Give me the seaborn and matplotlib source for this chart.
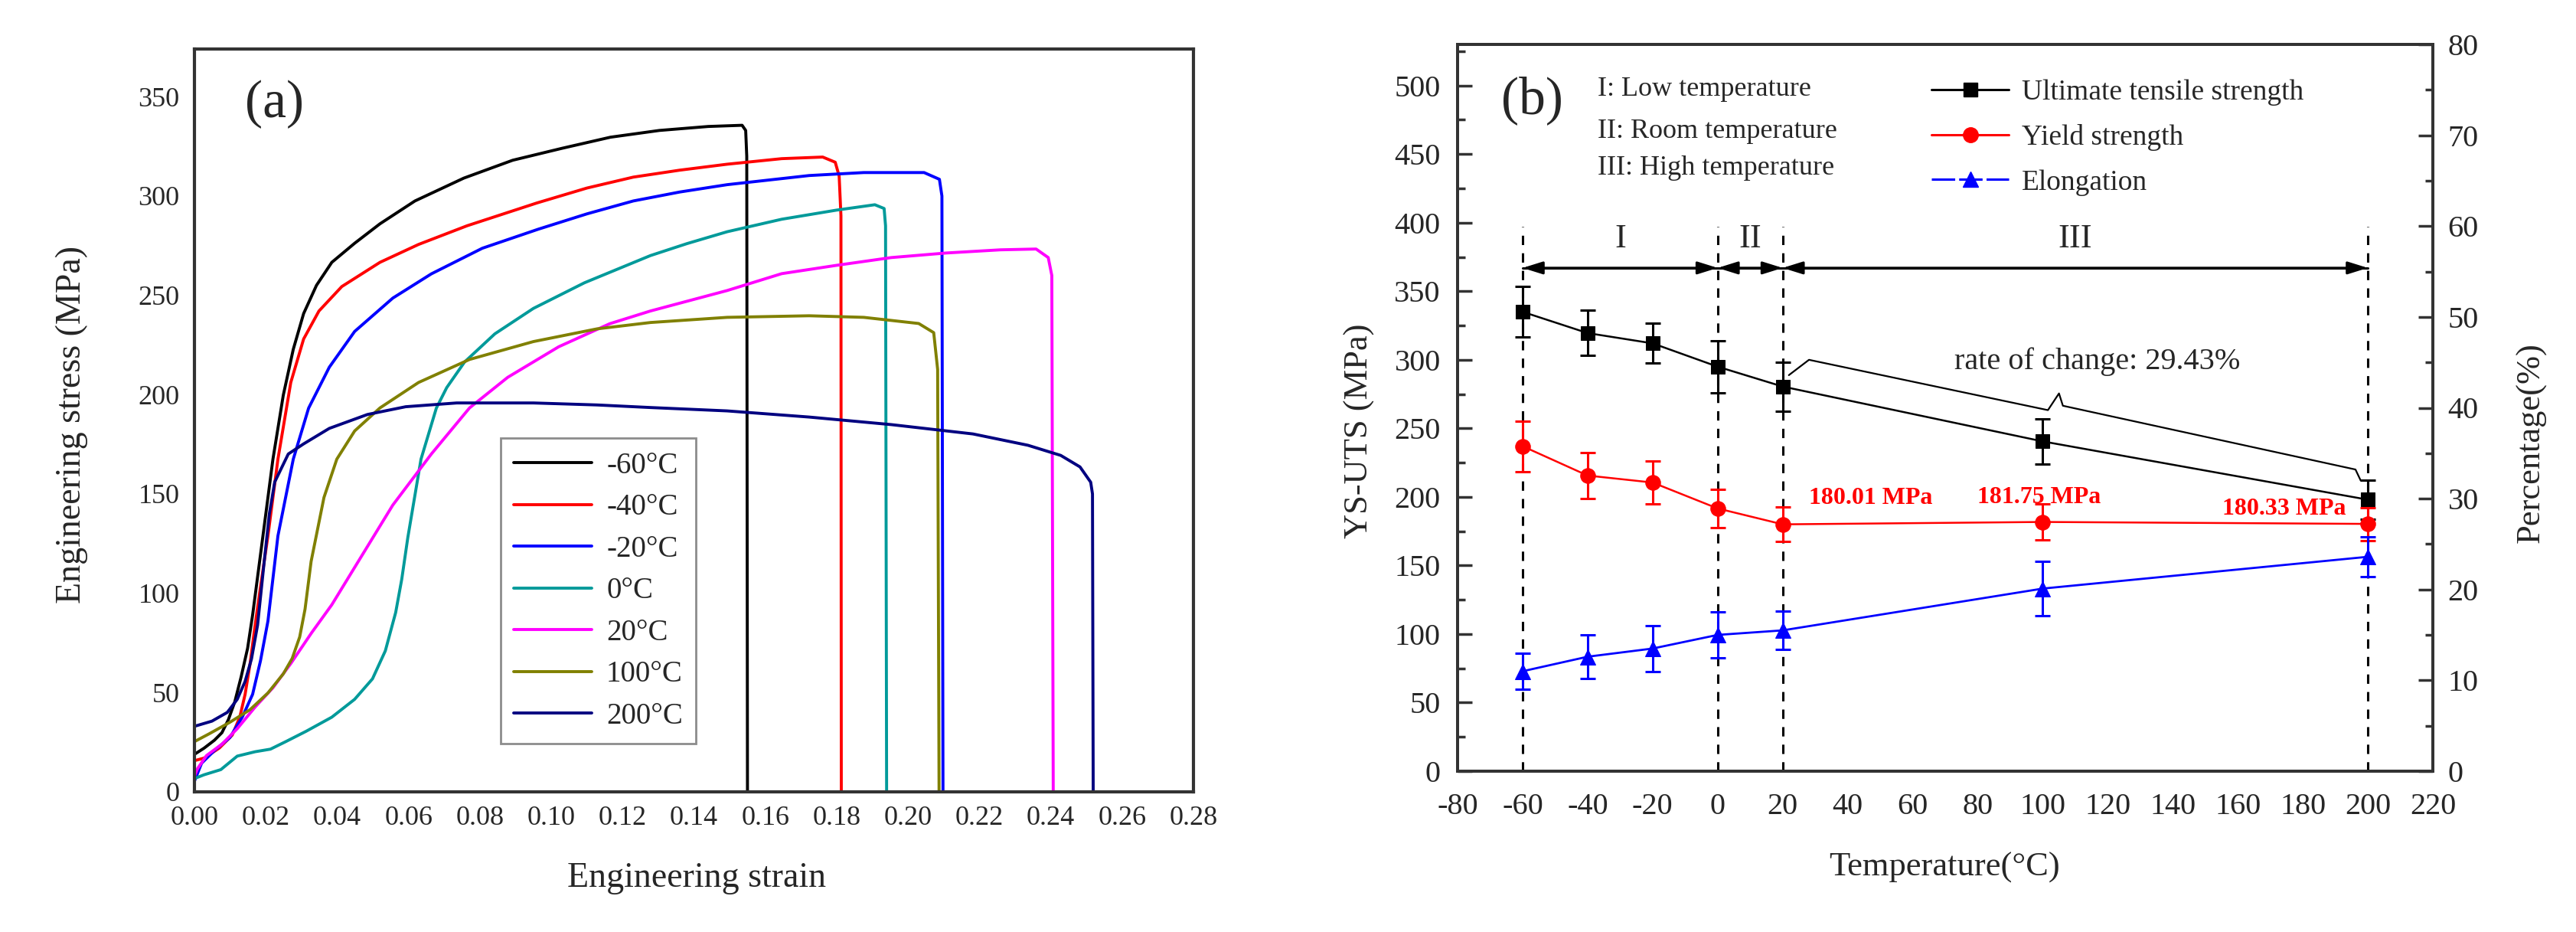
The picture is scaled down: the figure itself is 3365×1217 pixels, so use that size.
import matplotlib
matplotlib.use('Agg')
import matplotlib.pyplot as plt
import seaborn as sns
from matplotlib.lines import Line2D
from matplotlib.ticker import MultipleLocator, FormatStrFormatter

# ---- (a) stress-strain curves ----
labels_a = ['-60°C', '-40°C', '-20°C', '0°C', '20°C', '100°C', '200°C']
colors_a = ['#000000', '#ff0000', '#0000ff', '#009a9a', '#ff00ff', '#808000', '#000080']

strain_m60 = [0, 0.0027, 0.0056, 0.0077, 0.0095, 0.0113, 0.0131, 0.0149, 0.0163, 0.0192, 0.022, 0.0249,
              0.0277, 0.0306, 0.0342, 0.0385, 0.0449, 0.052, 0.0618, 0.0755, 0.0892, 0.103, 0.1166,
              0.1303, 0.144, 0.1535, 0.1545, 0.1548, 0.155]
stress_m60 = [18.9, 22, 26, 29.8, 36.3, 45.3, 58, 72.3, 89, 128.9, 167.5, 199.7,
              222.8, 240.8, 255, 266.6, 276.2, 286, 297.5, 309, 318, 324, 329.6,
              333, 335, 335.6, 333, 320, 0]

strain_m40 = [0, 0.0027, 0.007, 0.0106, 0.0127, 0.0142, 0.0156, 0.017, 0.0185, 0.0206, 0.0234, 0.027,
              0.0306, 0.0349, 0.0413, 0.052, 0.0628, 0.0764, 0.096, 0.11, 0.123, 0.136, 0.1493,
              0.1646, 0.1761, 0.1796, 0.1807, 0.1812, 0.1813]
stress_m40 = [15.7, 17, 22.1, 28.6, 37.6, 49.1, 64.6, 83.9, 103, 128.9, 167.5, 206.1,
              228, 242.1, 254.4, 266.6, 275.6, 285, 296.5, 304, 309.5, 313, 316,
              318.8, 319.6, 317, 310, 290, 0]

strain_m20 = [0, 0.002, 0.0056, 0.0099, 0.0134, 0.0163, 0.0185, 0.0206, 0.0234, 0.0277, 0.032, 0.0378,
              0.0449, 0.0556, 0.0664, 0.0807, 0.0964, 0.11, 0.123, 0.136, 0.1493, 0.1723, 0.1876,
              0.2045, 0.2088, 0.2095, 0.2098]
stress_m20 = [5.4, 14.4, 20.8, 27.3, 37.6, 49.1, 65.9, 86, 128.9, 167.5, 193.2, 213.8,
              231.8, 248.6, 260.8, 273.7, 283.3, 291, 297.5, 302, 305.7, 310.3, 311.8,
              311.8, 308.4, 300, 0]

strain_0 = [0, 0.0027, 0.0074, 0.012, 0.017, 0.0213, 0.0256, 0.0313, 0.0385, 0.0449, 0.0499, 0.0535,
            0.0564, 0.0581, 0.0598, 0.0635, 0.0678, 0.0707, 0.0757, 0.0842, 0.095, 0.1093, 0.1278,
            0.138, 0.1493, 0.1646, 0.18, 0.1907, 0.1933, 0.1937, 0.194]
stress_0 = [6.7, 8.6, 11.2, 18, 20.2, 21.5, 25.3, 30.5, 37.6, 46.6, 56.9, 71,
            90.3, 107, 128, 167.5, 193.2, 203.5, 216.4, 230.6, 243.4, 256.3, 270,
            276, 282, 288.3, 292.9, 295.6, 293.7, 285, 0]

strain_20 = [0, 0.0009, 0.0034, 0.0077, 0.012, 0.017, 0.022, 0.027, 0.0328, 0.0385, 0.0449, 0.0556,
             0.0664, 0.0771, 0.0878, 0.1021, 0.1164, 0.1278, 0.1493, 0.1646, 0.18, 0.1953, 0.2107,
             0.2259, 0.2359, 0.2393, 0.2403, 0.2407]
stress_20 = [8, 11.8, 18.3, 24, 31.8, 42.7, 52.4, 64.6, 80, 94.2, 113, 144.4,
             170.1, 193.3, 208.7, 224.1, 235.7, 242.1, 252.4, 260.9, 265.1, 269, 271.3,
             272.9, 273.3, 269, 260, 0]

strain_100 = [0, 0.0041, 0.0099, 0.0156, 0.0206, 0.0249, 0.0274, 0.0295, 0.031, 0.0327, 0.0363, 0.0399,
              0.0449, 0.052, 0.0628, 0.0771, 0.095, 0.1128, 0.1278, 0.1493, 0.1723, 0.1876, 0.203,
              0.2072, 0.2083, 0.2087]
stress_100 = [25.3, 29.2, 35, 41.4, 49.8, 59.4, 67.2, 78, 92, 116, 148.2, 167.5,
              181.7, 193.3, 206.1, 217.7, 226.7, 233.1, 236.3, 238.9, 239.7, 238.9, 235.8,
              231.2, 212.7, 0]

strain_200 = [0, 0.0049, 0.0092, 0.012, 0.0142, 0.016, 0.0177, 0.0195, 0.021, 0.0225, 0.0263, 0.0306,
              0.0378, 0.0485, 0.0592, 0.0735, 0.095, 0.1128, 0.1278, 0.1493, 0.1723, 0.1953, 0.2182,
              0.2336, 0.2428, 0.2482, 0.2512, 0.2517, 0.2519]
stress_200 = [33, 35.6, 40, 46.6, 55.6, 67, 84, 115, 140, 156, 170.1, 175.2,
              183, 190, 193.9, 195.8, 195.8, 194.8, 193.5, 191.8, 188.7, 184.9, 180.2,
              174.5, 169.4, 163.6, 155.9, 150, 0]

curves_a = [(strain_m60, stress_m60), (strain_m40, stress_m40), (strain_m20, stress_m20),
            (strain_0, stress_0), (strain_20, stress_20), (strain_100, stress_100),
            (strain_200, stress_200)]

# ---- (b) strength / elongation vs temperature ----
temps = [-60, -40, -20, 0, 20, 100, 200]
uts = [335, 319.5, 312, 295, 280.5, 240.5, 198]
uts_err = [18.5, 16.5, 14.5, 19, 18, 16.5, 14]
ys = [237, 215.6, 210.5, 191.6, 180.01, 181.75, 180.33]
ys_err = [18.5, 17, 15.5, 14, 12.5, 13, 12]
elong = [11.0, 12.6, 13.5, 15.0, 15.5, 20.1, 23.6]
elong_err = [2.0, 2.4, 2.5, 2.5, 2.1, 3.0, 2.2]

region_bounds = [-60, 0, 20, 200]
region_names = ['I', 'II', 'III']
region_text = ['I: Low temperature', 'II: Room temperature', 'III: High temperature']
ys_notes = [(28, 195, '180.01 MPa'), (79.9, 195.5, '181.75 MPa'), (155.2, 187, '180.33 MPa')]
bracket_t = [21.9, 28.1, 101.6, 105, 106.2, 196.2, 197.8]
bracket_v = [288.8, 300, 263.3, 275.5, 266.5, 220, 212]

sns.set_style('white')
plt.rcParams['font.family'] = ['Liberation Serif', 'DejaVu Serif']
plt.rcParams['axes.unicode_minus'] = False

W, H = 3366, 1217
fig = plt.figure(figsize=(W / 100, H / 100), dpi=100)
spine_c = '#333333'

#%% panel (a)
ax1 = fig.add_axes([254 / W, (H - 1034) / H, 1305 / W, 970 / H])
for (sx, sy), lab, c in zip(curves_a, labels_a, colors_a):
    sns.lineplot(x=sx, y=sy, sort=False, estimator=None, color=c, lw=2.8, label=lab, ax=ax1)

ax1.set_xlim(0, 0.28)
ax1.set_ylim(0, 374)
ax1.xaxis.set_major_locator(MultipleLocator(0.02))
ax1.xaxis.set_minor_locator(MultipleLocator(0.01))
ax1.xaxis.set_major_formatter(FormatStrFormatter('%.2f'))
ax1.yaxis.set_major_locator(MultipleLocator(50))
ax1.yaxis.set_minor_locator(MultipleLocator(25))
ax1.tick_params(which='both', direction='in', top=False, right=False, width=2.5, color=spine_c)
ax1.tick_params(which='major', length=14, labelsize=26)
ax1.tick_params(which='minor', length=8)
ax1.tick_params(axis='x', pad=13)
ax1.tick_params(axis='y', pad=14)
for s in ax1.spines.values():
    s.set_linewidth(3)
    s.set_color(spine_c)

ax1.set_xlabel('Engineering strain', fontsize=33)
ax1.xaxis.set_label_coords(0.503, -0.1165)
ax1.xaxis.label.set_va('center')
ax1.set_ylabel('Engineering stress (MPa)', fontsize=33)
ax1.yaxis.set_label_coords(-0.1226, 0.494)
ax1.yaxis.label.set_va('center')
ax1.text(0.0225, 346, '(a)', fontsize=50, ha='center', va='center')

leg = ax1.legend(loc='upper left', bbox_to_anchor=(0.3065, 0.476), fontsize=28, frameon=True,
                 fancybox=False, edgecolor='#8c8c8c', framealpha=1, handlelength=2.6,
                 handletextpad=0.5, labelspacing=0.45, borderpad=0.45, borderaxespad=0)
leg.get_frame().set_linewidth(2)

#%% panel (b)
ax2 = fig.add_axes([1904 / W, (H - 1007) / H, 1274 / W, 949 / H])
ax3 = ax2.twinx()

ax2.vlines(region_bounds, 0, 397, colors='k', linestyles=(0, (4, 3.5)), lw=2.2)
ax2.plot([region_bounds[0], region_bounds[-1]], [367, 367], color='k', lw=2.2)
for a, b in zip(region_bounds[:-1], region_bounds[1:]):
    ax2.annotate('', xy=(b, 367), xytext=(a, 367),
                 arrowprops=dict(arrowstyle='<|-|>,head_length=0.8,head_width=0.25', color='k',
                                 lw=2.2, shrinkA=0, shrinkB=0, mutation_scale=20))
for a, b, name in zip(region_bounds[:-1], region_bounds[1:], region_names):
    ax2.text((a + b) / 2, 388, name, fontsize=32, ha='center', va='center')

sns.lineplot(x=temps, y=uts, color='k', lw=1.8, marker='s', markersize=13, markeredgecolor='k',
             estimator=None, sort=False, ax=ax2)
ax2.errorbar(temps, uts, yerr=uts_err, fmt='none', ecolor='k', elinewidth=2.2, capsize=7, capthick=2.2)
sns.lineplot(x=temps, y=ys, color='#ff0000', lw=1.8, marker='o', markersize=14, markeredgecolor='#ff0000',
             estimator=None, sort=False, ax=ax2)
ax2.errorbar(temps, ys, yerr=ys_err, fmt='none', ecolor='#ff0000', elinewidth=2.2, capsize=7, capthick=2.2)

sns.lineplot(x=temps, y=elong, color='#0000ff', lw=2.0, marker='^', markersize=15, markeredgecolor='#0000ff',
             estimator=None, sort=False, ax=ax3)
ax3.errorbar(temps, elong, yerr=elong_err, fmt='none', ecolor='#0000ff', elinewidth=2.2, capsize=7, capthick=2.2)

ax2.plot(bracket_t, bracket_v, color='k', lw=1.6)
ax2.text(72.8, 293, 'rate of change: 29.43%', fontsize=29, ha='left', va='baseline')
for tx, ty, s in ys_notes:
    ax2.text(tx, ty, s, fontsize=23, fontweight='bold', color='#ff0000', ha='left', va='baseline')

for s, yb in zip(region_text, [492.7, 462, 435]):
    ax2.text(-36.9, yb, s, fontsize=26, ha='left', va='baseline')
ax2.text(-57, 489, '(b)', fontsize=50, ha='center', va='center')

ax2.set_xlim(-80, 220)
ax2.set_ylim(0, 530)
ax3.set_ylim(0, 80)
ax2.set_xticks(list(range(-80, 221, 20)))
ax2.yaxis.set_major_locator(MultipleLocator(50))
ax2.yaxis.set_minor_locator(MultipleLocator(25))
ax3.yaxis.set_major_locator(MultipleLocator(10))
ax3.yaxis.set_minor_locator(MultipleLocator(5))
ax2.tick_params(axis='x', direction='out', length=14, width=2.5, labelsize=29, pad=6, color=spine_c)
ax2.tick_params(axis='y', which='both', direction='in', width=2.5, labelsize=29, pad=16, color=spine_c)
ax2.tick_params(axis='y', which='major', length=14)
ax2.tick_params(axis='y', which='minor', length=7)
ax3.tick_params(axis='y', which='both', direction='in', width=2.5, labelsize=29, pad=14, color=spine_c)
ax3.tick_params(axis='y', which='major', length=14)
ax3.tick_params(axis='y', which='minor', length=7)
for ax in (ax2, ax3):
    for s in ax.spines.values():
        s.set_linewidth(2.8)
        s.set_color(spine_c)

ax2.set_xlabel('Temperature(°C)', fontsize=32)
ax2.xaxis.set_label_coords(0.499, -0.133)
ax2.xaxis.label.set_va('center')
ax2.set_ylabel('YS-UTS (MPa)', fontsize=32)
ax2.yaxis.set_label_coords(-0.101, 0.468)
ax2.yaxis.label.set_va('center')
ax3.set_ylabel('Percentage(%)', fontsize=32)
ax3.yaxis.set_label_coords(1.1005, 0.452)
ax3.yaxis.label.set_va('center')

handles = [
    Line2D([], [], color='k', lw=2.2, marker='s', markersize=13),
    Line2D([], [], color='#ff0000', lw=2.2, marker='o', markersize=14),
    Line2D([], [], color='#0000ff', lw=2.2, marker='^', markersize=15, linestyle=(0, (10, 1.7))),
]
ax3.legend(handles, ['Ultimate tensile strength', 'Yield strength', 'Elongation'],
           loc='upper left', bbox_to_anchor=(0.486, 0.952), fontsize=27, frameon=False,
           handlelength=2.7, handletextpad=0.45, labelspacing=0.64, borderpad=0, borderaxespad=0)

fig.savefig('out.png', dpi=100, facecolor='white')
